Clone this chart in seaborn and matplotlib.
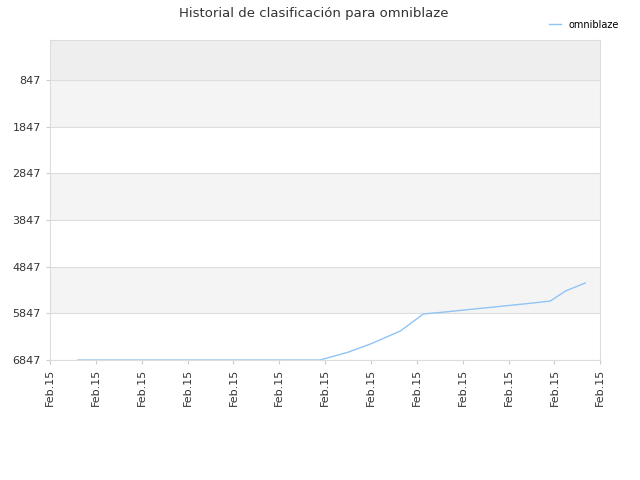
import seaborn as sns
import matplotlib.pyplot as plt
import pandas as pd

# ranking history (x in tick units, rank)
x_pos = [0.61, 1.5, 2.5, 3.5, 4.5, 5.5, 5.89, 6.5, 7.0, 7.64, 8.14, 8.6, 9.2, 9.8, 10.4, 10.91, 11.24, 11.67]
ranks = [6847, 6847, 6847, 6847, 6847, 6847, 6847, 6680, 6500, 6226, 5862, 5820, 5760, 5700, 5640, 5584, 5370, 5198]
tick_labels = ["Feb.15"] * 13
y_ticks = [847, 1847, 2847, 3847, 4847, 5847, 6847]

df = pd.DataFrame({"x": x_pos, "rank": ranks})

fig, ax = plt.subplots(figsize=(6.4, 4.8), dpi=100)
fig.subplots_adjust(left=0.078, right=0.938, top=0.917, bottom=0.25)

# alternating background bands
bands = [(-10, 847, "#eeeeee"), (847, 1847, "#f4f4f4"), (2847, 3847, "#f4f4f4"), (4847, 5847, "#f4f4f4")]
for lo, hi, c in bands:
    ax.axhspan(lo, hi, color=c, zorder=0, lw=0)
for t in y_ticks:
    ax.axhline(t, color="#dddddd", lw=0.8, zorder=0.5)

sns.lineplot(data=df, x="x", y="rank", ax=ax, color="#90c4f5", lw=1, label="omniblaze")

ax.set_ylim(6847, -10)
ax.set_xlim(0, 12)
ax.set_yticks(y_ticks)
ax.set_yticklabels([str(t) for t in y_ticks], fontsize=8, color="#333333")
ax.set_xticks(range(13))
ax.set_xticklabels(tick_labels, rotation=90, fontsize=8, color="#333333")
ax.set_xlabel("")
ax.set_ylabel("")
for s in ax.spines.values():
    s.set_color("#dddddd")
ax.tick_params(length=3, color="#cccccc")

fig.suptitle("Historial de clasificación para omniblaze", x=0.49, y=0.985, fontsize=9.5, color="#333333")
ax.legend(loc="upper right", bbox_to_anchor=(1.05, 1.09), frameon=False, fontsize=7, handlelength=1.2)

fig.savefig("out.png")
